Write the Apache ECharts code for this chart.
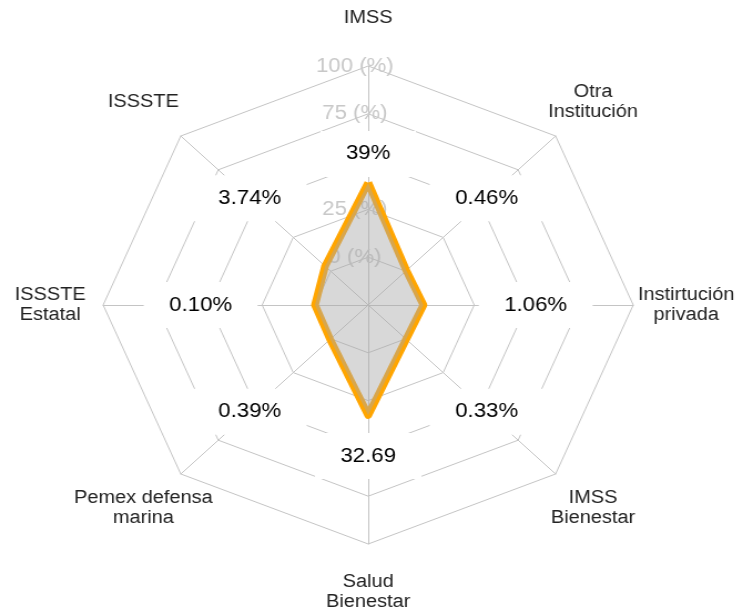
<!DOCTYPE html>
<html>
<head>
<meta charset="utf-8">
<script src="https://cdn.jsdelivr.net/npm/echarts@6/dist/echarts.min.js"></script>
<style>
  html, body { margin: 0; padding: 0; background: #fff; overflow: hidden; }
  /* the picture is wider than tall, so the octagon is stretched sideways */
  #radar-box { width: 663px; height: 613px; transform: scaleX(1.109); transform-origin: 0 0; }
</style>
</head>
<body>
<div id="radar-box"></div>
<script>
  // clockwise from the top, as in the picture
  var categories = ['IMSS', 'Otra\nInstitución', 'Instirtución\nprivada', 'IMSS\nBienestar',
    'Salud\nBienestar', 'Pemex defensa\nmarina', 'ISSSTE\nEstatal', 'ISSSTE'];
  var values = [39, 0.46, 1.06, 0.33, 32.69, 0.39, 0.10, 3.74];
  var valueLabels = ['39%', '0.46%', '1.06%', '0.33%', '32.69', '0.39%', '0.10%', '3.74%'];
  var scaleMin = -25, scaleMax = 100, scaleStep = 25;

  // echarts walks the axes counter-clockwise, flip everything after the first one
  function ccw(arr) { return [arr[0]].concat(arr.slice(1).reverse()); }
  var cats = ccw(categories), vals = ccw(values), vLabels = ccw(valueLabels);

  var LABEL_LEVEL = 54;   // ring where the value boxes sit
  var NAME_LEVEL = 125;   // 1.2 x radius, category names

  var myChart = echarts.init(document.getElementById('radar-box'));
  myChart.setOption({
    animation: false,
    textStyle: { fontFamily: 'Liberation Sans, Arial, sans-serif' },
    radar: {
      center: [332, 305],
      radius: 239,
      startAngle: 90,
      shape: 'polygon',
      splitNumber: (scaleMax - scaleMin) / scaleStep,
      indicator: cats.map(function (c, i) {
        var ind = { name: c, min: scaleMin, max: scaleMax };
        if (i > 0) ind.axisLabel = { show: false };
        return ind;
      }),
      axisName: { show: false },
      splitArea: { show: false },
      splitLine: { lineStyle: { color: '#c4c4c4', width: 1 } },
      axisLine: { lineStyle: { color: '#c4c4c4', width: 1 } },
      axisTick: { show: false },
      axisLabel: {
        show: true,
        color: '#c8c8c8',
        fontSize: 20,
        margin: 12,
        align: 'center',
        verticalAlign: 'middle',
        formatter: function (v) { return v < 0 ? '' : v + ' (%)'; }
      }
    },
    series: [
      {
        type: 'radar',
        z: 2,
        symbol: 'none',
        lineStyle: { color: '#FFA500', width: 7 },
        areaStyle: { color: 'rgba(168,168,168,0.45)', opacity: 1 },
        data: [{ value: vals, name: 'Institución' }]
      },
      {
        type: 'radar',
        z: 3,
        silent: true,
        symbol: 'circle',
        symbolSize: 1,
        itemStyle: { color: 'rgba(0,0,0,0)' },
        lineStyle: { width: 0, opacity: 0 },
        label: {
          show: true,
          position: 'inside',
          formatter: function (p) { return '{box|' + vLabels[p.dimensionIndex] + '}'; },
          rich: {
            box: { backgroundColor: '#fff', padding: [13, 23], fontSize: 20, color: '#000' }
          }
        },
        data: [{ value: cats.map(function () { return LABEL_LEVEL; }) }]
      },
      {
        type: 'radar',
        z: 3,
        silent: true,
        symbol: 'circle',
        symbolSize: 1,
        itemStyle: { color: 'rgba(0,0,0,0)' },
        lineStyle: { width: 0, opacity: 0 },
        label: {
          show: true,
          position: 'inside',
          align: 'center',
          verticalAlign: 'middle',
          fontSize: 18,
          lineHeight: 20,
          color: '#222',
          formatter: function (p) { return cats[p.dimensionIndex]; }
        },
        data: [{ value: cats.map(function () { return NAME_LEVEL; }) }]
      }
    ]
  });
</script>
</body>
</html>
